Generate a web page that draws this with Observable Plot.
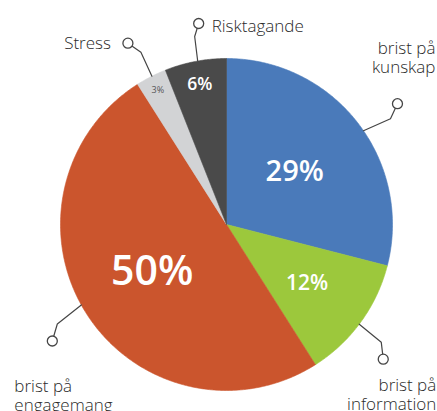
<!DOCTYPE html>
<html><head><meta charset="utf-8">
<script src="https://cdn.jsdelivr.net/npm/d3@7"></script>
<script src="https://cdn.jsdelivr.net/npm/@observablehq/plot@0.6"></script>
<style>html,body{margin:0;padding:0;background:#fff;} svg{display:block;}</style>
</head><body><div id="chart"></div>
<script>
// ---- data ----
const categories = ["brist på kunskap", "brist på information", "brist på engagemang", "Stress", "Risktagande"];
const labelTexts = ["brist på\nkunskap", "brist på\ninformation", "brist på\nengagemang", "Stress", "Risktagande"];
const values = [29, 12, 50, 3, 6];
const percentLabels = ["29%", "12%", "50%", "3%", "6%"];
const colors = ["#4a7aba", "#9cc83c", "#cb552d", "#d2d3d5", "#4a4a4a"];

// ---- layout config ----
const W = 437, H = 411, CX = 226, CY = 224, R = 166;
const pctRadius = [0.52, 0.60, 0.53, 0.91, 0.86];
const pctSize = [29, 21, 41, 9, 17.5];
const pctDark = [false, false, false, true, false];
const anchorDelta = [3.4, 0.9, 3.4, 0.3, 0.8];
const elbowOff = [[27, -12], [22, 18], [-24, 19], [-11, -24], [-3, -24.5]];
const circleOff = [[7, -15], [2, 17], [-5, 17], [-13, -9], [4, -13]];
const textOff = [[38, -46], [53, 35], [-38, 54], [-17, 0], [13, 2]];
const textAnchor = ["end", "end", "start", "end", "start"];

const total = d3.sum(values);
let acc = 0;
const slices = values.map((v, i) => {
  const a0 = acc / total * 360; acc += v; const a1 = acc / total * 360;
  return {i, name: categories[i], value: v, a0, a1, mid: (a0 + a1) / 2};
});
const rad = d => d * Math.PI / 180;
const polar = (deg, rr) => [rr * Math.sin(rad(deg)), rr * Math.cos(rad(deg))];
const px = ([x, y], [dx, dy]) => [x + dx / R, y - dy / R];

const slicePts = slices.flatMap(s => {
  const pts = [{name: s.name, x: 0, y: 0}];
  const n = Math.ceil((s.a1 - s.a0) / 0.5);
  for (let k = 0; k <= n; k++) {
    const [x, y] = polar(s.a0 + (s.a1 - s.a0) * k / n, 1);
    pts.push({name: s.name, x, y});
  }
  pts.push({name: s.name, x: 0, y: 0});
  return pts;
});

const pctData = slices.map(s => {
  const [x, y] = polar(s.mid, pctRadius[s.i]);
  return {x, y, text: percentLabels[s.i], size: pctSize[s.i], dark: pctDark[s.i]};
});

const leaderPts = [], circles = [], names = [];
slices.forEach(s => {
  const a = polar(s.mid + anchorDelta[s.i], 1);
  const e = px(a, elbowOff[s.i]);
  const c = px(e, circleOff[s.i]);
  const t = px(c, textOff[s.i]);
  leaderPts.push({name: s.name, x: a[0], y: a[1]}, {name: s.name, x: e[0], y: e[1]}, {name: s.name, x: c[0], y: c[1]});
  circles.push({x: c[0], y: c[1]});
  names.push({x: t[0], y: t[1], text: labelTexts[s.i], anchor: textAnchor[s.i]});
});

const chart = Plot.plot({
  width: W, height: H, margin: 0,
  style: {fontFamily: "'Open Sans', sans-serif", background: "#fff"},
  x: {axis: null, domain: [-CX / R, (W - CX) / R], range: [0, W]},
  y: {axis: null, domain: [CY / R, -(H - CY) / R], range: [0, H]},
  color: {domain: categories, range: colors},
  marks: [
    Plot.line(slicePts, {x: "x", y: "y", z: "name", fill: "name", stroke: "name", strokeWidth: 0.6, curve: "linear"}),
    Plot.line(leaderPts, {x: "x", y: "y", z: "name", stroke: "#454545", strokeWidth: 1.2}),
    Plot.dot(circles, {x: "x", y: "y", r: 5, fill: "white", stroke: "#454545", strokeWidth: 1.3}),
    Plot.text(names.filter(d => d.anchor === "start"), {x: "x", y: "y", text: "text", textAnchor: "start", lineAnchor: "middle", lineHeight: 1.12, fontSize: 17, fontWeight: 300, fill: "#2a2a2a"}),
    Plot.text(names.filter(d => d.anchor === "end"), {x: "x", y: "y", text: "text", textAnchor: "end", lineAnchor: "middle", lineHeight: 1.12, fontSize: 17, fontWeight: 300, fill: "#2a2a2a"}),
    Plot.text(pctData.filter(d => !d.dark), {x: "x", y: "y", text: "text", fontSize: "size", fill: "white", fontWeight: 600, lineAnchor: "middle"}),
    Plot.text(pctData.filter(d => d.dark), {x: "x", y: "y", text: "text", fontSize: "size", fill: "#555", fontWeight: 400, lineAnchor: "middle"})
  ]
});
document.getElementById("chart").appendChild(chart);
</script>
</body></html>
